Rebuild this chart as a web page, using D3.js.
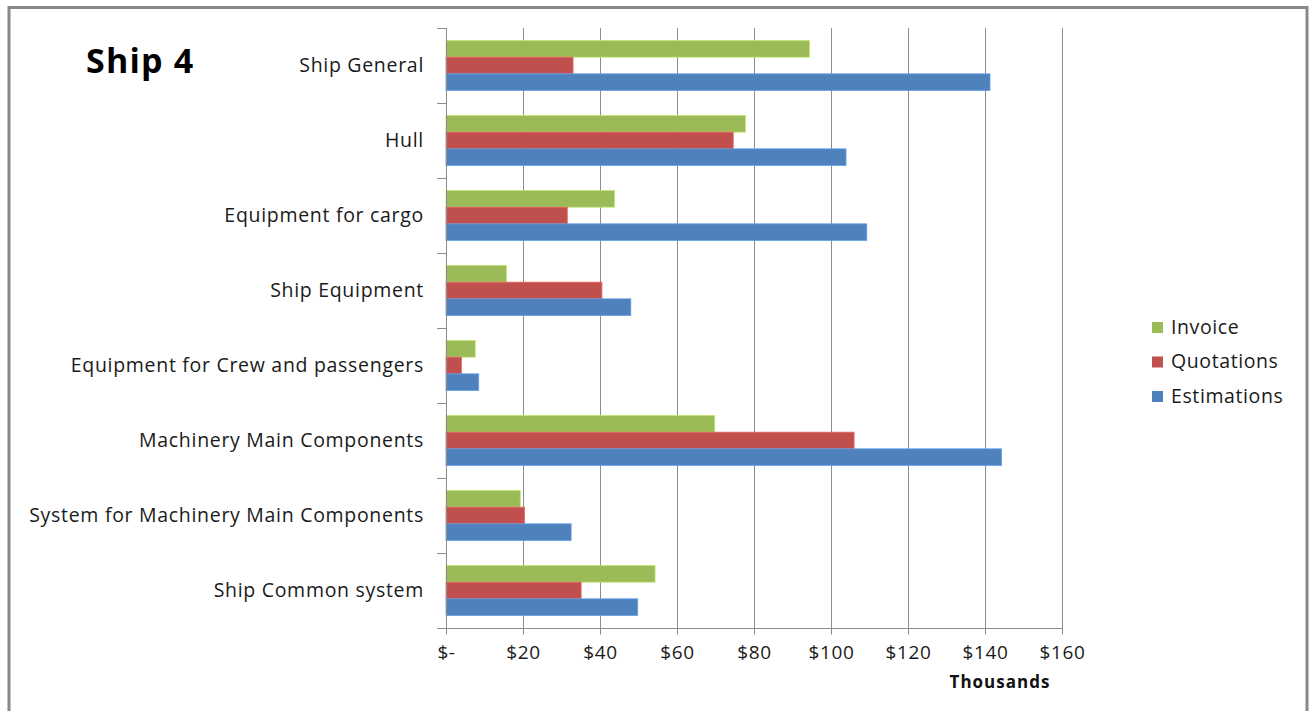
<!DOCTYPE html>
<html>
<head>
<meta charset="utf-8">
<script src="https://cdn.jsdelivr.net/npm/d3@7"></script>
<style>
  html, body { margin: 0; padding: 0; background: #fff; }
  svg { display: block; font-family: "Open Sans", "Noto Sans", sans-serif; }
</style>
</head>
<body>
<svg id="chart" width="1311" height="711"></svg>
<script>
// Cost categories, top to bottom
const categories = [
  "Ship General",
  "Hull",
  "Equipment for cargo",
  "Ship Equipment",
  "Equipment for Crew and passengers",
  "Machinery Main Components",
  "System for Machinery Main Components",
  "Ship Common system"
];
// Values in thousands of dollars
const invoice     = [94.4, 77.8, 43.8, 15.7, 7.6, 69.8, 19.3, 54.3];
const quotations  = [33.0, 74.6, 31.5, 40.5, 4.0, 106.0, 20.4, 35.1];
const estimations = [141.3, 103.9, 109.3, 48.0, 8.5, 144.3, 32.5, 49.8];
const seriesNames = ["Invoice", "Quotations", "Estimations"];
const seriesColors = ["#9BBB59", "#C0504D", "#4F81BD"];
const tickValues = [0, 20, 40, 60, 80, 100, 120, 140, 160];
const tickLabels = ["$-", "$20", "$40", "$60", "$80", "$100", "$120", "$140", "$160"];

const seriesValues = [invoice, quotations, estimations];
const svg = d3.select("#chart");

// outer frame
svg.append("rect")
  .attr("x", 9).attr("y", 7.5)
  .attr("width", 1298).attr("height", 720)
  .attr("fill", "#fff").attr("stroke", "#888").attr("stroke-width", 3);

const plot = { left: 446, right: 1062, top: 28, bottom: 628 };

const x = d3.scaleLinear().domain([0, 160]).range([plot.left, plot.right]);
const y = d3.scaleBand().domain(categories).range([plot.top, plot.bottom]).paddingInner(0).paddingOuter(0);
const inner = d3.scaleBand().domain(seriesNames).range([0, y.bandwidth()]).paddingInner(0).paddingOuter(0.75);

// vertical gridlines
svg.append("g").selectAll("line")
  .data(tickValues.slice(1))
  .join("line")
  .attr("x1", d => Math.round(x(d)) + 0.5).attr("x2", d => Math.round(x(d)) + 0.5)
  .attr("y1", plot.top).attr("y2", plot.bottom)
  .attr("stroke", "#8c8c8c").attr("stroke-width", 1);

// bars
const rows = [];
categories.forEach((c, i) => {
  seriesNames.forEach((s, j) => rows.push({ cat: c, series: s, value: seriesValues[j][i], color: seriesColors[j] }));
});
svg.append("g").selectAll("rect")
  .data(rows)
  .join("rect")
  .attr("x", x(0))
  .attr("y", d => y(d.cat) + inner(d.series))
  .attr("width", d => x(d.value) - x(0))
  .attr("height", inner.bandwidth())
  .attr("fill", d => d.color)
  .attr("stroke", d => d3.color(d.color).brighter(0.6))
  .attr("stroke-width", 0.8);

const labelStyle = sel => sel
  .attr("font-size", 19.5).attr("letter-spacing", 0.7)
  .attr("fill", "#1a1a1a").attr("font-family", "'Open Sans', sans-serif");

// category axis
const yAxis = d3.axisLeft(y).tickSize(0).tickPadding(22);
const yg = svg.append("g").attr("transform", `translate(${plot.left},0)`).call(yAxis);
yg.select(".domain").remove();
yg.selectAll("text").call(labelStyle);
// band boundary ticks and axis line
const bounds = categories.map(c => y(c)).concat([plot.bottom]);
svg.append("g").selectAll("line")
  .data(bounds)
  .join("line")
  .attr("x1", plot.left - 9).attr("x2", plot.left)
  .attr("y1", d => Math.round(d) + 0.5).attr("y2", d => Math.round(d) + 0.5)
  .attr("stroke", "#8c8c8c");
svg.append("line")
  .attr("x1", plot.left + 0.5).attr("x2", plot.left + 0.5)
  .attr("y1", plot.top).attr("y2", plot.bottom)
  .attr("stroke", "#8c8c8c");

// value axis
const xAxis = d3.axisBottom(x).tickValues(tickValues)
  .tickFormat((d, i) => tickLabels[i]).tickSize(6).tickPadding(11).tickSizeOuter(0);
const xg = svg.append("g").attr("transform", `translate(0,${plot.bottom + 0.5})`).call(xAxis);
xg.select(".domain").attr("d", `M${plot.left - 9},0H${plot.right + 1}`).attr("stroke", "#8c8c8c");
xg.selectAll(".tick line").attr("stroke", "#8c8c8c");
xg.selectAll("text").call(labelStyle).attr("font-size", 19).attr("letter-spacing", 0.6);

svg.append("text")
  .attr("x", 1000).attr("y", 688)
  .attr("text-anchor", "middle")
  .attr("font-size", 17).attr("font-weight", "bold").attr("letter-spacing", 1).attr("fill", "#111")
  .text("Thousands");

// title
svg.append("text")
  .attr("x", 86).attr("y", 73)
  .attr("font-size", 34).attr("font-weight", "bold").attr("letter-spacing", 1.2).attr("fill", "#000")
  .text("Ship 4");

// legend
const legend = svg.append("g").selectAll("g")
  .data(seriesNames)
  .join("g")
  .attr("transform", (d, i) => `translate(1152, ${327 + i * 34.5})`);
legend.append("rect")
  .attr("x", 0).attr("y", -5).attr("width", 11).attr("height", 11)
  .attr("fill", (d, i) => seriesColors[i]);
legend.append("text")
  .attr("x", 19).attr("y", 0).attr("dy", "0.35em")
  .call(labelStyle).attr("letter-spacing", 0.6)
  .text(d => d);
</script>
</body>
</html>
